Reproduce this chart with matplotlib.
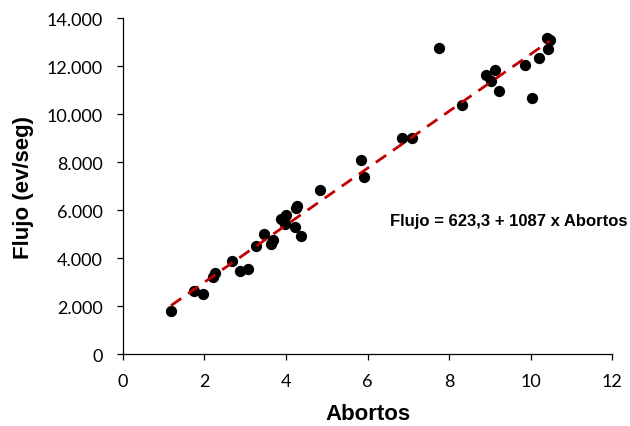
import numpy as np
import matplotlib.pyplot as plt
from matplotlib.ticker import FuncFormatter

# datos
abortos = [1.18, 1.75, 1.97, 2.21, 2.26, 2.68, 2.87, 3.07, 3.27, 3.45,
           3.62, 3.69, 3.97, 3.88, 4.00, 3.94, 4.22, 4.27, 4.25, 4.37,
           4.84, 5.85, 5.92, 6.84, 7.08, 7.76, 8.32, 8.90, 9.13, 9.03,
           9.22, 10.03, 9.85, 10.20, 10.41, 10.46, 10.43]
flujo = [1800, 2650, 2500, 3230, 3370, 3880, 3470, 3554, 4525, 5000,
         4580, 4760, 5420, 5640, 5790, 5580, 5320, 6170, 6080, 4935,
         6860, 8096, 7375, 9000, 9000, 12750, 10400, 11640, 11830, 11390,
         10970, 10690, 12050, 12350, 13170, 13110, 12720]

eq_text = 'Flujo = 623,3 + 1087 x Abortos'

fig = plt.figure(figsize=(6.3, 4.27), dpi=100)
ax = fig.add_axes([0.195, 0.168, 0.777, 0.787])

ax.scatter(abortos, flujo, s=66, color='black', zorder=3, linewidths=0)

# recta de ajuste (minimos cuadrados)
b, a = np.polyfit(abortos, flujo, 1)
xl = np.array([min(abortos), max(abortos)])
ax.plot(xl, a + b * xl, color='#C00000', lw=2.0, dashes=(4.5, 3), zorder=4)

ax.text(6.55, 5554, eq_text, fontsize=12, fontweight='bold',
        family='Liberation Sans', va='center', ha='left')

ax.set_xlim(0, 12)
ax.set_ylim(0, 14000)
ax.set_xticks(range(0, 13, 2))
ax.set_yticks(range(0, 14001, 2000))
ax.yaxis.set_major_formatter(FuncFormatter(lambda v, p: f'{int(v):,}'.replace(',', '.')))

for s in ['top', 'right']:
    ax.spines[s].set_visible(False)
for s in ['left', 'bottom']:
    ax.spines[s].set_linewidth(0.9)
ax.tick_params(direction='out', length=4.5, width=0.9, labelsize=13)
ax.tick_params(axis='y', pad=10)
ax.tick_params(axis='x', pad=9)
for lab in ax.get_xticklabels() + ax.get_yticklabels():
    lab.set_family('Lato')

ax.set_xlabel('Abortos', fontsize=16, fontweight='bold', family='Liberation Sans', labelpad=10)
ax.set_ylabel('Flujo (ev/seg)', fontsize=16, fontweight='bold', family='Liberation Sans', labelpad=9)

fig.savefig('out.png', dpi=100)
